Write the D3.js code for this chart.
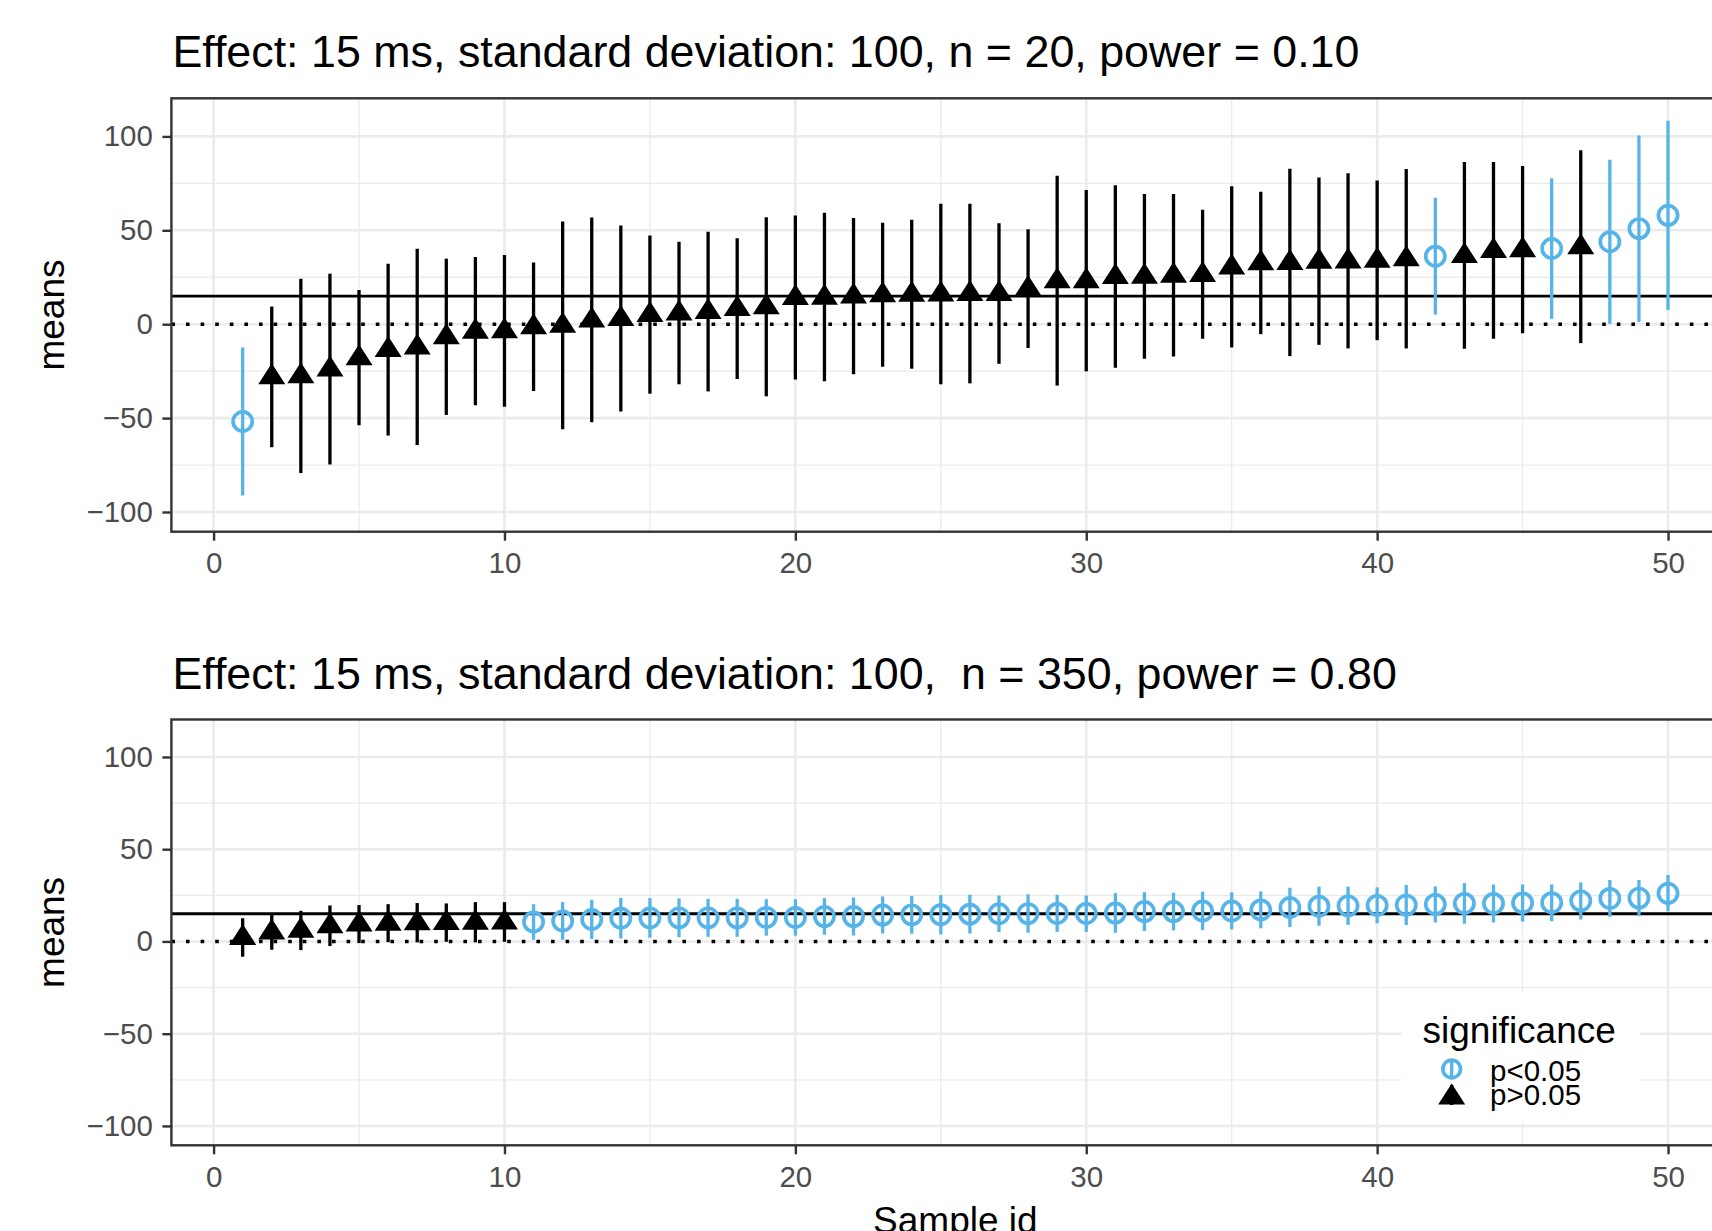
<!DOCTYPE html>
<html>
<head>
<meta charset="utf-8">
<script src="https://cdn.jsdelivr.net/npm/d3@7"></script>
<style>
  body { margin: 0; background: #fff; }
  svg { display: block; font-family: "Liberation Sans", Arial, Helvetica, sans-serif; }
</style>
</head>
<body>
<svg width="1712" height="1231"></svg>
<script>
// sample ids (x)
const sampleIds = [1, 2, 3, 4, 5, 6, 7, 8, 9, 10, 11, 12, 13, 14, 15, 16, 17, 18, 19, 20,
  21, 22, 23, 24, 25, 26, 27, 28, 29, 30, 31, 32, 33, 34, 35, 36, 37, 38, 39, 40,
  41, 42, 43, 44, 45, 46, 47, 48, 49, 50];

// n = 20 samples
const means20 = [-51.8, -28.0, -27.5, -23.9, -17.8, -13.5, -12.1, -6.7, -3.7, -3.5,
  -1.3, -0.6, 2.3, 3.0, 5.1, 5.9, 6.7, 8.3, 9.3, 14.2,
  14.4, 15.0, 15.7, 15.9, 16.1, 16.4, 16.4, 19.0, 23.2, 23.2,
  25.4, 25.5, 26.1, 26.5, 30.5, 32.7, 32.9, 33.5, 33.7, 34.0,
  34.9, 36.2, 36.6, 39.3, 39.7, 40.3, 41.3, 43.9, 50.9, 58.0];
const lower20 = [-91.2, -65.5, -79.3, -74.7, -53.8, -59.3, -64.4, -48.3, -43.2, -43.9,
  -35.6, -55.9, -52.2, -46.5, -37.0, -32.0, -35.8, -29.2, -38.4, -29.4,
  -30.4, -26.7, -22.7, -23.7, -32.0, -31.5, -21.1, -12.7, -32.7, -25.1,
  -23.2, -18.4, -17.2, -7.8, -12.4, -5.3, -17.0, -11.0, -12.9, -8.5,
  -12.9, 5.1, -13.1, -7.8, -4.8, 2.8, -10.1, 0.2, 1.2, 7.6];
const upper20 = [-12.4, 9.4, 24.2, 26.9, 18.2, 32.2, 40.2, 34.9, 35.8, 36.8,
  32.9, 54.7, 56.8, 52.6, 47.3, 43.9, 49.2, 45.8, 57.0, 57.9,
  59.3, 56.6, 54.0, 55.6, 64.2, 64.2, 53.8, 50.6, 79.1, 71.5,
  74.0, 69.4, 69.4, 60.9, 73.5, 70.6, 82.8, 78.1, 80.4, 76.5,
  82.7, 67.3, 86.4, 86.4, 84.2, 77.7, 92.7, 87.6, 100.5, 108.3];
// 1 = p<0.05, 0 = p>0.05
const sig20 = [1, 0, 0, 0, 0, 0, 0, 0, 0, 0,
  0, 0, 0, 0, 0, 0, 0, 0, 0, 0,
  0, 0, 0, 0, 0, 0, 0, 0, 0, 0,
  0, 0, 0, 0, 0, 0, 0, 0, 0, 0,
  0, 1, 0, 0, 0, 1, 0, 1, 1, 1];

// n = 350 samples
const means350 = [2.2, 5.1, 6.0, 8.5, 9.4, 9.9, 10.1, 10.2, 10.4, 10.5,
  10.6, 11.1, 11.9, 12.6, 12.7, 12.8, 12.8, 12.8, 13.0, 13.0,
  13.5, 13.5, 14.3, 14.4, 14.5, 14.8, 15.0, 15.1, 15.2, 15.2,
  15.4, 16.2, 16.2, 16.5, 16.5, 17.1, 18.4, 19.1, 19.3, 19.5,
  19.7, 20.1, 20.6, 20.6, 20.9, 21.0, 22.0, 23.3, 23.5, 26.1];
const lower350 = [-8.3, -4.5, -4.7, -2.5, -0.9, -0.4, -0.5, -0.2, -0.5, -0.2,
  0.9, 0.9, 1.3, 1.6, 2.0, 2.3, 2.5, 2.5, 3.1, 3.1,
  3.6, 3.2, 4.3, 4.2, 3.8, 4.3, 5.1, 4.7, 5.2, 5.2,
  4.7, 5.6, 6.0, 6.1, 6.5, 7.1, 7.8, 8.5, 9.0, 9.8,
  8.9, 10.3, 9.6, 10.3, 10.8, 11.0, 11.9, 13.4, 13.7, 16.3];
const upper350 = [12.6, 14.8, 16.6, 19.5, 19.7, 20.2, 20.8, 20.6, 21.3, 21.3,
  20.2, 21.3, 22.6, 23.6, 23.5, 23.3, 23.1, 23.1, 22.9, 22.9,
  23.5, 23.8, 24.4, 24.7, 25.1, 25.3, 24.9, 25.5, 25.3, 24.9,
  26.2, 26.7, 26.4, 26.9, 26.6, 27.1, 29.1, 29.7, 29.7, 29.3,
  30.6, 29.8, 31.6, 30.9, 30.9, 30.9, 32.0, 33.3, 33.3, 36.0];
const sig350 = [0, 0, 0, 0, 0, 0, 0, 0, 0, 0,
  1, 1, 1, 1, 1, 1, 1, 1, 1, 1,
  1, 1, 1, 1, 1, 1, 1, 1, 1, 1,
  1, 1, 1, 1, 1, 1, 1, 1, 1, 1,
  1, 1, 1, 1, 1, 1, 1, 1, 1, 1];

const xTicks = [0, 10, 20, 30, 40, 50];
const yTicks = [-100, -50, 0, 50, 100];
const trueEffect = 15;
const titles = [
  "Effect: 15 ms, standard deviation: 100, n = 20, power = 0.10",
  "Effect: 15 ms, standard deviation: 100,  n = 350, power = 0.80"
];
const legendTitle = "significance";
const legendLabels = ["p<0.05", "p>0.05"];

const blue = "#56B4E9";
const grid = "#EBEBEB";
const dark = "#333333";

const svg = d3.select("svg");

const xScale = d3.scaleLinear().domain([-1.45, 52.45]).range([171.4, 1739.3]);
const xMinor = d3.pairs(xTicks).map(([a, b]) => (a + b) / 2);
const yMinor = d3.pairs(yTicks).map(([a, b]) => (a + b) / 2);

const triangle = "M0,-13.5L13.5,7.5L-13.5,7.5Z";

function drawPanel(idx, top, bottom, means, lower, upper, sig) {
  const yScale = d3.scaleLinear().domain([-110.5, 120.3]).range([bottom, top]);
  const [x0, x1] = xScale.range();
  const g = svg.append("g");

  const data = sampleIds.map((id, i) => ({ id, mean: means[i], lo: lower[i], hi: upper[i], sig: sig[i] }));

  g.append("clipPath").attr("id", "clip" + idx)
    .append("rect").attr("x", x0).attr("y", top).attr("width", x1 - x0).attr("height", bottom - top);

  // grid
  const gg = g.append("g").attr("stroke", grid);
  gg.selectAll(".ymin").data(yMinor).enter().append("line")
    .attr("x1", x0).attr("x2", x1).attr("y1", d => yScale(d)).attr("y2", d => yScale(d)).attr("stroke-width", 1.3);
  gg.selectAll(".xmin").data(xMinor).enter().append("line")
    .attr("y1", top).attr("y2", bottom).attr("x1", d => xScale(d)).attr("x2", d => xScale(d)).attr("stroke-width", 1.3);
  gg.selectAll(".ymaj").data(yTicks).enter().append("line")
    .attr("x1", x0).attr("x2", x1).attr("y1", d => yScale(d)).attr("y2", d => yScale(d)).attr("stroke-width", 2.6);
  gg.selectAll(".xmaj").data(xTicks).enter().append("line")
    .attr("y1", top).attr("y2", bottom).attr("x1", d => xScale(d)).attr("x2", d => xScale(d)).attr("stroke-width", 2.6);

  const plot = g.append("g").attr("clip-path", `url(#clip${idx})`);

  // reference lines
  plot.append("line").attr("x1", x0).attr("x2", x1)
    .attr("y1", yScale(0)).attr("y2", yScale(0))
    .attr("stroke", "#000").attr("stroke-width", 3.6).attr("stroke-dasharray", "3.6,11");
  plot.append("line").attr("x1", x0).attr("x2", x1)
    .attr("y1", yScale(trueEffect)).attr("y2", yScale(trueEffect))
    .attr("stroke", "#000").attr("stroke-width", 2.8);

  // error bars
  plot.selectAll(".bar").data(data).enter().append("line")
    .attr("x1", d => xScale(d.id)).attr("x2", d => xScale(d.id))
    .attr("y1", d => yScale(d.lo)).attr("y2", d => yScale(d.hi))
    .attr("stroke", d => d.sig ? blue : "#000").attr("stroke-width", 3.3);

  // points
  plot.selectAll(".tri").data(data.filter(d => !d.sig)).enter().append("path")
    .attr("d", triangle)
    .attr("transform", d => `translate(${xScale(d.id)},${yScale(d.mean)})`)
    .attr("fill", "#000");
  plot.selectAll(".circ").data(data.filter(d => d.sig)).enter().append("circle")
    .attr("cx", d => xScale(d.id)).attr("cy", d => yScale(d.mean)).attr("r", 9.6)
    .attr("fill", "none").attr("stroke", blue).attr("stroke-width", 3.7);

  // border
  g.append("rect").attr("x", x0).attr("y", top).attr("width", x1 - x0).attr("height", bottom - top)
    .attr("fill", "none").attr("stroke", dark).attr("stroke-width", 2.4);

  // axes
  const yAxis = d3.axisLeft(yScale).tickValues(yTicks).tickSize(9).tickPadding(9.5);
  const xAxis = d3.axisBottom(xScale).tickValues(xTicks).tickSize(9).tickPadding(11.5);
  const ya = g.append("g").attr("transform", `translate(${x0},0)`).call(yAxis);
  const xa = g.append("g").attr("transform", `translate(0,${bottom})`).call(xAxis);
  [ya, xa].forEach(a => {
    a.select(".domain").remove();
    a.attr("font-family", null).attr("font-size", 29.5);
    a.selectAll(".tick line").attr("stroke", dark).attr("stroke-width", 2.4);
    a.selectAll(".tick text").attr("fill", "#4D4D4D");
  });

  // y title
  g.append("text")
    .attr("transform", `translate(64,${(top + bottom) / 2}) rotate(-90)`)
    .attr("text-anchor", "middle").attr("font-size", 37).attr("fill", "#000")
    .text("means");

  // plot title
  g.append("text")
    .attr("x", x0 + 1).attr("y", top - 31)
    .attr("font-size", 44.8).attr("fill", "#000")
    .style("white-space", "pre")
    .text(titles[idx]);

  return yScale;
}

drawPanel(0, 98.3, 531.7, means20, lower20, upper20, sig20);
drawPanel(1, 719.5, 1145.3, means350, lower350, upper350, sig350);

// x title
svg.append("text")
  .attr("x", (xScale.range()[0] + xScale.range()[1]) / 2).attr("y", 1233)
  .attr("text-anchor", "middle").attr("font-size", 37).attr("fill", "#000")
  .text("Sample id");

// legend
const lg = svg.append("g");
lg.append("rect").attr("x", 1402).attr("y", 992).attr("width", 238).attr("height", 130).attr("fill", "#fff");
lg.append("text").attr("x", 1422.5).attr("y", 1043).attr("font-size", 37).attr("fill", "#000").text(legendTitle);
const keyY = [1069, 1094];
lg.append("line").attr("x1", 1451.7).attr("x2", 1451.7).attr("y1", keyY[0] - 9).attr("y2", keyY[0] + 9)
  .attr("stroke", blue).attr("stroke-width", 3.3);
lg.append("circle").attr("cx", 1451.7).attr("cy", keyY[0]).attr("r", 8.8)
  .attr("fill", "none").attr("stroke", blue).attr("stroke-width", 3.7);
lg.append("line").attr("x1", 1451.7).attr("x2", 1451.7).attr("y1", keyY[1] - 9).attr("y2", keyY[1] + 11)
  .attr("stroke", "#000").attr("stroke-width", 3.3);
lg.append("path").attr("d", triangle).attr("transform", `translate(1451.7,${keyY[1] + 3})`).attr("fill", "#000");
lg.selectAll(".lab").data(legendLabels).enter().append("text")
  .attr("x", 1490).attr("y", (d, i) => [1080.5, 1105][i])
  .attr("font-size", 29.5).attr("fill", "#000").text(d => d);
</script>
</body>
</html>
